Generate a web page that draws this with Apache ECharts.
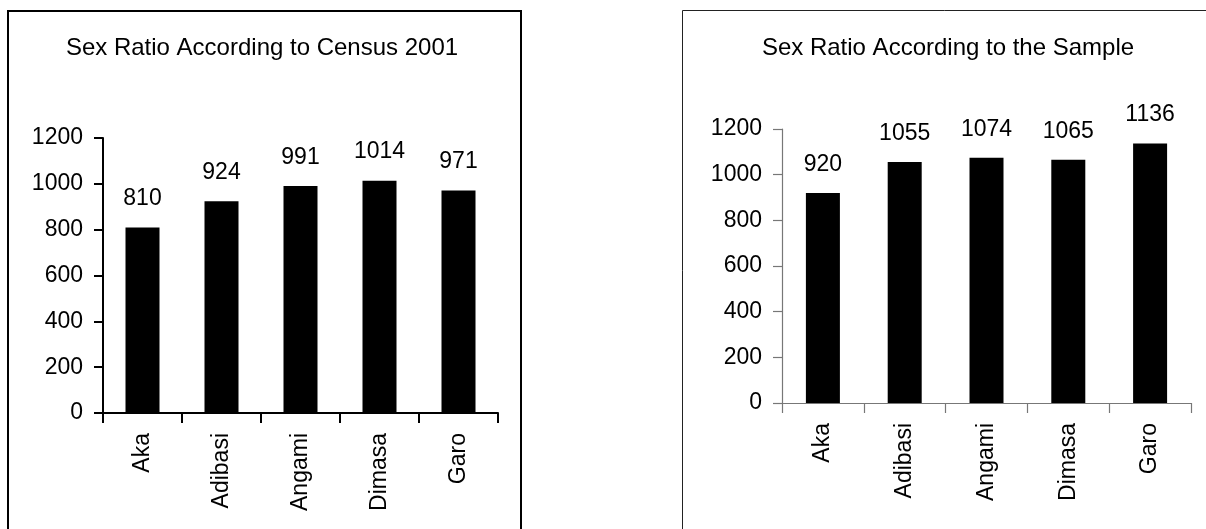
<!DOCTYPE html>
<html>
<head>
<meta charset="utf-8">
<script src="https://cdn.jsdelivr.net/npm/echarts@6/dist/echarts.min.js"></script>
<style>
html,body{margin:0;padding:0;background:#fff;}
#c{width:1206px;height:529px;}
</style>
</head>
<body>
<div id="c"></div>
<script>
const categories = ['Aka', 'Adibasi', 'Angami', 'Dimasa', 'Garo'];
const census2001 = [810, 924, 991, 1014, 971];
const sample = [920, 1055, 1074, 1065, 1136];
const yTicks = { min: 0, max: 1200, interval: 200 };
const titles = ['Sex Ratio According to Census 2001', 'Sex Ratio According to the Sample'];

const FONT = "'Liberation Sans', Arial, sans-serif";
const chart = echarts.init(document.getElementById('c'), null, { renderer: 'canvas' });

function xAxis(gridIndex, color, width) {
  return {
    type: 'category', gridIndex, data: categories,
    axisLine: { lineStyle: { color, width } },
    axisTick: { show: true, length: 10, lineStyle: { color, width } },
    axisLabel: { rotate: 90, margin: 20, color: '#000', fontSize: 23, fontFamily: FONT },
    splitLine: { show: false }
  };
}
function yAxis(gridIndex, color, width) {
  return {
    type: 'value', gridIndex, min: yTicks.min, max: yTicks.max, interval: yTicks.interval,
    axisLine: { show: true, lineStyle: { color, width } },
    axisTick: { show: true, length: 9, lineStyle: { color, width } },
    axisLabel: { margin: 20, color: '#000', fontSize: 23, fontFamily: FONT,
      formatter: v => String(v) },
    splitLine: { show: false }
  };
}
function bar(idx, data) {
  return {
    type: 'bar', xAxisIndex: idx, yAxisIndex: idx, data, barWidth: 34,
    itemStyle: { color: '#000' },
    label: { show: true, position: 'top', distance: 17, color: '#000', fontSize: 23, fontFamily: FONT },
    animation: false
  };
}

chart.setOption({
  animation: false,
  backgroundColor: '#fff',
  title: [
    { text: titles[0], left: 262, top: 36, textAlign: 'center', padding: 0,
      textStyle: { fontSize: 24, fontWeight: 'normal', color: '#000', fontFamily: FONT } },
    { text: titles[1], left: 948, top: 36, textAlign: 'center', padding: 0,
      textStyle: { fontSize: 24, fontWeight: 'normal', color: '#000', fontFamily: FONT } }
  ],
  graphic: [
    { type: 'rect', shape: { x: 8, y: 11, width: 513, height: 560 },
      style: { fill: 'none', stroke: '#000', lineWidth: 2 }, silent: true },
    { type: 'rect', shape: { x: 682.5, y: 10.5, width: 600, height: 600 },
      style: { fill: 'none', stroke: '#222', lineWidth: 1 }, silent: true }
  ],
  grid: [
    { left: 103, right: 708, top: 138, bottom: 116 },
    { left: 782, right: 15, top: 129, bottom: 126 }
  ],
  xAxis: [xAxis(0, '#000', 2), xAxis(1, '#777', 1.2)],
  yAxis: [yAxis(0, '#000', 2), yAxis(1, '#777', 1.2)],
  series: [bar(0, census2001), bar(1, sample)]
});
</script>
</body>
</html>
